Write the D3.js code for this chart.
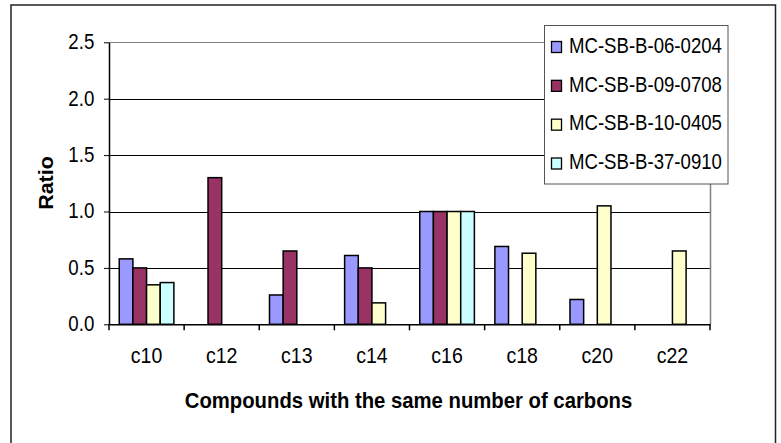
<!DOCTYPE html>
<html>
<head>
<meta charset="utf-8">
<script src="https://cdn.jsdelivr.net/npm/d3@7/dist/d3.min.js"></script>
<style>
  html, body { margin: 0; padding: 0; background: #fff; }
  svg { display: block; }
  text { font-family: "Liberation Sans", Arial, sans-serif; fill: #000; }
</style>
</head>
<body>
<svg id="chart" width="781" height="443"></svg>
<script>
const categories = ["c10", "c12", "c13", "c14", "c16", "c18", "c20", "c22"];
const seriesNames = ["MC-SB-B-06-0204", "MC-SB-B-09-0708", "MC-SB-B-10-0405", "MC-SB-B-37-0910"];
const s0602 = [0.58, null, 0.26, 0.61, 1.0, 0.69, 0.22, null];
const s0907 = [0.50, 1.30, 0.65, 0.50, 1.0, null, null, null];
const s1004 = [0.35, null, null, 0.19, 1.0, 0.63, 1.05, 0.65];
const s3709 = [0.37, null, null, null, 1.0, null, null, null];
const seriesColors = ["#9999FF", "#993366", "#FFFFCC", "#CCFFFF"];
const yTicks = [0, 0.5, 1.0, 1.5, 2.0, 2.5];

const seriesValues = [s0602, s0907, s1004, s3709];
const SY = 1.17; // vertical stretch of text seen in the reference

const svg = d3.select("#chart");

// outer chart frame
svg.append("rect")
  .attr("x", 11).attr("y", 5).attr("width", 764.5).attr("height", 445)
  .attr("fill", "#fff").attr("stroke", "#222").attr("stroke-width", 1.5);

const pLeft = 109, pRight = 710, pTop = 42.3, pBottom = 324.3;

const x0 = d3.scaleBand().domain(categories).range([pLeft, pRight]).padding(0);
const x1 = d3.scaleBand().domain(seriesNames).range([0, x0.bandwidth()])
  .paddingInner(0).paddingOuter(0.75);
const y = d3.scaleLinear().domain([0, 2.5]).range([pBottom, pTop]);

// gridlines
svg.append("g").selectAll("line").data(yTicks.filter(d => d > 0)).join("line")
  .attr("x1", pLeft).attr("x2", pRight)
  .attr("y1", d => Math.round(y(d)) + 0.5).attr("y2", d => Math.round(y(d)) + 0.5)
  .attr("stroke", d => d === 2.5 ? "#808080" : "#000").attr("stroke-width", 1);

// plot right border
svg.append("line")
  .attr("x1", pRight + 0.5).attr("x2", pRight + 0.5)
  .attr("y1", pTop).attr("y2", pBottom)
  .attr("stroke", "#808080").attr("stroke-width", 1.5);

// bars
const barData = [];
seriesValues.forEach((vals, si) => {
  vals.forEach((v, ci) => {
    if (v !== null) barData.push({ cat: categories[ci], s: seriesNames[si], v: v, color: seriesColors[si] });
  });
});
svg.append("g").selectAll("rect").data(barData).join("rect")
  .attr("x", d => x0(d.cat) + x1(d.s))
  .attr("y", d => y(d.v))
  .attr("width", x1.bandwidth())
  .attr("height", d => y(0) - y(d.v))
  .attr("fill", d => d.color)
  .attr("stroke", "#000").attr("stroke-width", 1.5);

// y axis
const yAxis = d3.axisLeft(y).tickValues(yTicks).tickFormat(d3.format(".1f"))
  .tickSizeInner(5).tickSizeOuter(0).tickPadding(10);
const gy = svg.append("g").attr("transform", `translate(${pLeft},0)`).call(yAxis);
gy.select(".domain").attr("stroke", "#000").attr("stroke-width", 1.5);
gy.selectAll(".tick line").attr("stroke", "#000").attr("stroke-width", 1);
gy.selectAll(".tick text").attr("font-size", "18.7px")
  .attr("font-family", "Liberation Sans, Arial, sans-serif").attr("fill", "#000")
  .attr("x", 0).attr("y", 0).attr("dy", null)
  .attr("transform", `translate(-14.7,6.3) scale(1,${SY})`);

// x axis
const xAxis = d3.axisBottom(x0).tickSize(0).tickPadding(0);
const gx = svg.append("g").attr("transform", `translate(0,${pBottom})`).call(xAxis);
gx.select(".domain").attr("stroke", "#000").attr("stroke-width", 1.5);
gx.selectAll(".tick text").attr("font-size", "19.5px").attr("dy", null).attr("y", 0)
  .attr("transform", `translate(0,39) scale(1,${SY})`)
  .attr("font-family", "Liberation Sans, Arial, sans-serif").attr("fill", "#000");
// category boundary ticks
const bounds = categories.map(c => x0(c)).concat([pRight]);
gx.append("g").selectAll("line").data(bounds).join("line")
  .attr("x1", d => d).attr("x2", d => d).attr("y1", 0).attr("y2", 6)
  .attr("stroke", "#000").attr("stroke-width", 1.5);

// axis titles
svg.append("text")
  .attr("transform", `translate(${(pLeft + pRight) / 2 - 1},408) scale(1,1.1)`)
  .attr("text-anchor", "middle").attr("font-weight", "bold").attr("font-size", "20.3px")
  .text("Compounds with the same number of carbons");
svg.append("text")
  .attr("transform", "translate(53.3,183) rotate(-90) scale(1.1,1)")
  .attr("text-anchor", "middle").attr("font-weight", "bold").attr("font-size", "19.5px")
  .text("Ratio");

// legend
const lg = svg.append("g");
lg.append("rect").attr("x", 544.5).attr("y", 25.5).attr("width", 183.5).attr("height", 158.5)
  .attr("fill", "#fff").attr("stroke", "#555").attr("stroke-width", 1);
const ly = d3.scalePoint().domain(seriesNames).range([47, 163.5]);
const items = lg.selectAll("g.item").data(seriesNames).join("g").attr("class", "item")
  .attr("transform", d => `translate(0,${ly(d)})`);
items.append("rect").attr("x", 551.5).attr("y", -5.5).attr("width", 10).attr("height", 11)
  .attr("fill", (d, i) => seriesColors[i]).attr("stroke", "#000").attr("stroke-width", 1.3);
items.append("text").attr("transform", `translate(569,5.7) scale(1,${SY})`)
  .attr("font-size", "18.6px").text(d => d);
</script>
</body>
</html>
